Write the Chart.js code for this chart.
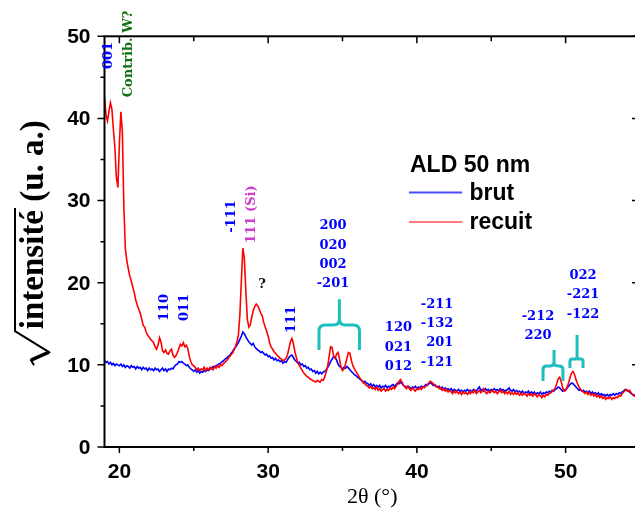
<!DOCTYPE html>
<html>
<head>
<meta charset="utf-8">
<script src="https://cdn.jsdelivr.net/npm/chart.js@4.4.1/dist/chart.umd.min.js"></script>
<style>
    html, body { margin: 0; padding: 0; background: #fff; overflow: hidden; }
    #wrap { position: relative; width: 650px; height: 508px; }
</style>
</head>
<body>
<div id="wrap"><canvas id="xrd" width="650" height="508"></canvas></div>
<script>
// 2θ sampling of the scans (degrees)
const angleStart = 19
const angleStep = 0.1

// √intensity, annealed sample (one row per degree, 19.0 -> 55.0)
const recuit = [
    42.6, 40.4, 39.7, 40.9, 41.9, 41.1, 38.6, 36.4, 32.8, 31.6,
    36.9, 40.8, 38.4, 29.3, 24.2, 22.7, 21.7, 20.8, 20.2, 19.5,
    18.8, 17.9, 17.3, 16.8, 16.3, 15.6, 14.8, 14.6, 14.0, 13.6,
    13.4, 13.1, 12.9, 12.7, 12.2, 11.9, 12.4, 13.3, 12.8, 11.7,
    11.5, 11.8, 11.4, 11.3, 11.7, 11.9, 11.2, 10.9, 11.1, 11.5,
    12.0, 12.5, 12.3, 12.7, 12.2, 12.4, 12.0, 11.0, 10.4, 10.0,
    9.9, 9.7, 9.4, 9.6, 9.3, 9.5, 9.4, 9.7, 9.3, 9.6,
    9.4, 9.7, 9.5, 9.4, 9.8, 9.6, 9.9, 9.7, 10.0, 9.9,
    10.2, 10.3, 10.5, 10.7, 11.0, 11.2, 11.4, 11.8, 12.2, 12.8,
    13.6, 16.1, 20.2, 24.2, 23.0, 19.1, 15.6, 14.6, 14.9, 15.8,
    16.6, 17.1, 17.4, 17.2, 16.8, 16.3, 16.0, 15.2, 14.6, 14.1,
    13.5, 12.7, 12.2, 11.9, 11.6, 11.4, 11.2, 11.0, 10.8, 10.7,
    10.5, 10.6, 10.8, 11.2, 12.0, 12.8, 13.2, 12.6, 11.6, 10.9,
    10.3, 9.9, 9.6, 9.3, 9.0, 8.8, 8.6, 8.5, 8.3, 8.2,
    8.1, 8.0, 7.9, 8.1, 8.0, 7.9, 8.2, 8.1, 8.5, 9.1,
    9.8, 11.0, 12.2, 12.1, 11.1, 10.8, 11.3, 11.5, 10.7, 9.7,
    9.3, 9.5, 10.1, 10.8, 11.5, 11.4, 10.5, 9.9, 9.5, 9.2,
    8.9, 8.6, 8.3, 8.1, 7.8, 7.7, 7.5, 7.4, 7.2, 7.4,
    7.1, 7.2, 7.0, 7.3, 6.9, 7.1, 6.8, 7.0, 7.1, 6.8,
    7.0, 6.9, 7.2, 7.0, 7.3, 7.1, 7.4, 7.7, 8.0, 8.2,
    7.9, 7.5, 7.3, 7.1, 7.4, 7.1, 6.9, 7.2, 7.0, 6.8,
    7.1, 7.0, 7.2, 7.0, 7.3, 7.2, 7.4, 7.6, 7.8, 8.0,
    7.9, 7.7, 7.5, 7.3, 7.4, 7.1, 7.2, 6.9, 7.1, 6.8,
    7.0, 6.7, 6.9, 6.7, 6.5, 6.8, 6.6, 6.8, 6.5, 6.7,
    6.4, 6.7, 6.5, 6.6, 6.4, 6.7, 6.5, 6.8, 6.6, 6.9,
    6.5, 6.7, 6.9, 6.6, 6.8, 7.1, 6.7, 6.5, 6.8, 6.6,
    6.7, 6.9, 6.6, 6.8, 6.5, 6.7, 6.9, 6.6, 6.8, 6.5,
    6.7, 6.5, 6.8, 6.4, 6.6, 6.4, 6.7, 6.4, 6.6, 6.3,
    6.5, 6.3, 6.6, 6.4, 6.2, 6.5, 6.3, 6.4, 6.2, 6.5,
    6.3, 6.1, 6.4, 6.2, 6.0, 6.3, 6.1, 6.4, 6.3, 6.5,
    6.6, 6.8, 6.9, 7.2, 7.7, 8.3, 8.5, 8.0, 7.2, 6.8,
    6.9, 7.3, 7.8, 8.5, 9.0, 9.2, 8.8, 8.2, 7.7, 7.3,
    7.0, 6.8, 6.7, 6.5, 6.7, 6.4, 6.6, 6.3, 6.5, 6.2,
    6.4, 6.1, 6.3, 6.0, 6.2, 5.9, 6.1, 5.8, 6.0, 5.9,
    6.1, 5.8, 6.0, 5.9, 6.1, 6.0, 6.3, 6.2, 6.5, 6.7,
    6.9, 7.0, 6.8, 6.9, 6.6, 6.4, 6.2, 6.3, 6.0, 6.1,
    6.0
]

// √intensity, as-deposited sample
const brut = [
    10.5, 10.3, 10.4, 10.1, 10.3, 10.0, 10.2, 9.9, 10.1, 10.0,
    9.9, 10.1, 9.8, 10.0, 9.7, 9.9, 9.8, 9.6, 9.9, 9.7,
    9.8, 9.5, 9.8, 9.6, 9.7, 9.4, 9.7, 9.5, 9.6, 9.3,
    9.6, 9.4, 9.5, 9.3, 9.6, 9.4, 9.5, 9.2, 9.4, 9.6,
    9.3, 9.5, 9.2, 9.5, 9.4, 9.6, 9.5, 9.8, 10.0, 10.1,
    10.4, 10.3, 10.4, 10.2, 10.1, 9.9, 10.0, 9.7, 9.5, 9.4,
    9.2, 9.4, 9.1, 9.3, 9.0, 9.2, 9.1, 9.3, 9.2, 9.4,
    9.3, 9.5, 9.6, 9.8, 9.7, 9.9, 10.0, 10.1, 10.2, 10.4,
    10.5, 10.7, 10.8, 11.0, 11.1, 11.4, 11.6, 11.9, 12.1, 12.4,
    12.7, 13.1, 13.5, 14.0, 13.8, 13.4, 13.1, 12.8, 12.6, 12.4,
    12.6, 12.2, 12.0, 11.8, 11.7, 11.5, 11.6, 11.4, 11.2, 11.3,
    11.0, 11.1, 10.8, 10.9, 10.6, 10.8, 10.5, 10.6, 10.4, 10.5,
    10.2, 10.4, 10.3, 10.6, 10.9, 11.1, 11.2, 10.9, 10.6, 10.4,
    10.2, 10.3, 10.0, 10.1, 9.8, 9.9, 9.6, 9.7, 9.4, 9.5,
    9.2, 9.3, 9.0, 9.2, 8.9, 9.1, 8.9, 9.1, 9.2, 9.4,
    9.7, 10.0, 10.4, 10.7, 11.0, 10.9, 10.6, 10.1, 9.8, 9.7,
    9.5, 9.7, 9.6, 9.8, 9.6, 9.4, 9.2, 9.0, 8.8, 8.7,
    8.5, 8.4, 8.2, 8.1, 7.9, 8.0, 7.8, 7.7, 7.5, 7.7,
    7.4, 7.6, 7.3, 7.5, 7.3, 7.5, 7.2, 7.4, 7.3, 7.5,
    7.2, 7.4, 7.3, 7.5, 7.6, 7.4, 7.6, 7.8, 7.7, 7.9,
    7.7, 7.5, 7.4, 7.2, 7.4, 7.3, 7.1, 7.3, 7.2, 7.4,
    7.1, 7.3, 7.2, 7.4, 7.3, 7.4, 7.6, 7.5, 7.7, 7.8,
    7.7, 7.5, 7.6, 7.4, 7.3, 7.4, 7.1, 7.3, 7.0, 7.2,
    7.0, 7.1, 6.9, 7.1, 6.8, 7.0, 6.9, 6.8, 7.0, 6.8,
    6.9, 6.7, 6.9, 6.8, 7.0, 6.8, 6.9, 6.7, 7.0, 6.9,
    6.8, 7.1, 7.3, 6.9, 7.0, 6.8, 7.1, 6.9, 7.0, 6.8,
    7.0, 6.9, 7.1, 6.9, 7.0, 6.8, 7.1, 6.9, 7.0, 6.8,
    6.9, 7.0, 7.2, 6.9, 6.8, 7.0, 6.7, 6.9, 6.7, 6.8,
    6.6, 6.8, 6.5, 6.7, 6.6, 6.8, 6.5, 6.7, 6.5, 6.7,
    6.4, 6.6, 6.5, 6.7, 6.4, 6.6, 6.5, 6.7, 6.6, 6.8,
    6.7, 6.9, 6.8, 7.0, 7.1, 7.3, 7.2, 7.0, 6.8, 6.9,
    7.0, 7.2, 7.4, 7.6, 7.8, 7.7, 7.5, 7.3, 7.1, 6.9,
    7.0, 6.8, 6.9, 6.7, 6.8, 6.6, 6.8, 6.5, 6.7, 6.5,
    6.6, 6.4, 6.6, 6.3, 6.5, 6.3, 6.4, 6.2, 6.4, 6.2,
    6.4, 6.3, 6.5, 6.3, 6.5, 6.4, 6.6, 6.5, 6.7, 6.8,
    7.0, 6.9, 6.8, 6.7, 6.5, 6.4, 6.3, 6.4, 6.2, 6.3,
    6.1
]

const xMajorTicks = [20, 30, 40, 50]
const xMinorTicks = [25, 35, 45, 55]
const yMajorTicks = [0, 10, 20, 30, 40, 50]
const yMinorTicks = [5, 15, 25, 35, 45]

// peak labels, anchored at [2θ, √I]
const peakLabels = [
    { lines: ['001'], at: [19.27, 47.66], color: '#0000ff', rotate: true },
    { lines: ['Contrib. W?'], at: [20.61, 47.85], color: '#117011', rotate: true },
    { lines: ['110'], at: [23.07, 16.98], color: '#0000ff', rotate: true },
    { lines: ['011'], at: [24.39, 16.98], color: '#0000ff', rotate: true },
    { lines: ['-111'], at: [27.57, 28.06], color: '#0000ff', rotate: true },
    { lines: ['111 (Si)'], at: [28.88, 28.31], color: '#cc3fcc', rotate: true },
    { lines: ['?'], at: [29.59, 19.72], color: '#111111' },
    { lines: ['111'], at: [31.57, 15.52], color: '#0000ff', rotate: true },
    { lines: ['200', '020', '002', '-201'], at: [34.36, 26.9], color: '#0000ff' },
    { lines: ['120', '021', '012'], at: [38.76, 14.49], color: '#0000ff' },
    { lines: ['-211', '-132', '201', '-121'], at: [42.45, 17.37], color: '#0000ff', align: 'right' },
    { lines: ['-212', '220'], at: [48.14, 15.86], color: '#0000ff' },
    { lines: ['022', '-221', '-122'], at: [51.17, 20.85], color: '#0000ff' },
]

// cyan braces: 2θ left / stem / right, √I top / bar / ends
const braces = [
    { x: [33.42, 34.79, 36.14], y: [17.98, 14.85, 11.81] },
    { x: [48.48, 49.22, 49.82], y: [11.81, 9.86, 8.04] },
    { x: [50.29, 50.77, 51.17], y: [13.64, 10.71, 9.62] },
]

const legendTitle = 'ALD 50 nm'
const seriesNames = ['brut', 'recuit']

const angles = brut.map((_, i) => +(angleStart + i * angleStep).toFixed(1))
const toPoints = values => values.map((v, i) => ({ x: angles[i], y: v }))

function drawBrace(ctx, x, y, b) {
    const l = x.getPixelForValue(b.x[0])
    const m = x.getPixelForValue(b.x[1])
    const r = x.getPixelForValue(b.x[2])
    const top = y.getPixelForValue(b.y[0])
    const bar = y.getPixelForValue(b.y[1])
    const end = y.getPixelForValue(b.y[2])
    const rad = Math.min(6, (m - l) / 3, end - bar)
    ctx.beginPath()
    ctx.moveTo(l, end)
    ctx.lineTo(l, bar + rad)
    ctx.quadraticCurveTo(l, bar, l + rad, bar)
    ctx.lineTo(m - rad, bar)
    ctx.quadraticCurveTo(m, bar, m, bar - rad)
    ctx.lineTo(m, top)
    ctx.moveTo(r, end)
    ctx.lineTo(r, bar + rad)
    ctx.quadraticCurveTo(r, bar, r - rad, bar)
    ctx.lineTo(m + rad, bar)
    ctx.quadraticCurveTo(m, bar, m, bar - rad)
    ctx.stroke()
}

const decorations = {
    id: 'decorations',
    afterDatasetsDraw(chart) {
        const { ctx, chartArea: a, scales: { x, y } } = chart
        ctx.save()

        // frame
        ctx.strokeStyle = '#000'
        ctx.lineWidth = 2
        ctx.strokeRect(a.left, a.top, a.right - a.left, a.bottom - a.top)

        // ticks: out on bottom/left, in on top/right
        ctx.lineWidth = 1.5
        ctx.beginPath()
        xMajorTicks.concat(xMinorTicks).forEach(v => {
            const px = x.getPixelForValue(v)
            const len = xMajorTicks.includes(v) ? 6 : 4
            ctx.moveTo(px, a.bottom); ctx.lineTo(px, a.bottom + len)
            ctx.moveTo(px, a.top); ctx.lineTo(px, a.top + len + 1)
        })
        yMajorTicks.concat(yMinorTicks).forEach(v => {
            const py = y.getPixelForValue(v)
            const len = yMajorTicks.includes(v) ? 7 : 4
            ctx.moveTo(a.left, py); ctx.lineTo(a.left - len, py)
            ctx.moveTo(a.right, py); ctx.lineTo(a.right - len - 1, py)
        })
        ctx.stroke()

        // tick labels
        ctx.fillStyle = '#000'
        ctx.font = 'bold 21px "Liberation Sans", Arial, sans-serif'
        ctx.textAlign = 'center'
        ctx.textBaseline = 'middle'
        xMajorTicks.forEach(v => ctx.fillText(String(v), x.getPixelForValue(v), a.bottom + 25))
        ctx.textAlign = 'right'
        yMajorTicks.forEach(v => ctx.fillText(String(v), a.left - 14, y.getPixelForValue(v) + 1))

        // x title
        ctx.font = '22px "Liberation Serif", "Times New Roman", serif'
        ctx.textAlign = 'center'
        ctx.fillText('2θ (°)', (a.left + a.right) / 2, 497)

        // y title with radical over "intensité"
        ctx.save()
        ctx.translate(43, (a.top + a.bottom) / 2 + 1)
        ctx.rotate(-Math.PI / 2)
        ctx.font = 'bold 33px "Liberation Serif", "Times New Roman", serif'
        ctx.textAlign = 'left'
        ctx.textBaseline = 'alphabetic'
        const word = 'intensité'
        const rest = ' (u. a.)'
        const radW = 34
        const wWord = ctx.measureText(word).width
        const total = radW + 2 + wWord + ctx.measureText(rest).width
        const u0 = -total / 2
        ctx.fillText(word, u0 + radW + 2, 0)
        ctx.fillText(rest, u0 + radW + 2 + wWord, 0)
        ctx.lineWidth = 2
        ctx.lineJoin = 'miter'
        ctx.beginPath()
        ctx.moveTo(u0, -9)
        ctx.lineTo(u0 + 5, -12)
        ctx.lineTo(u0 + 13, 6)
        ctx.lineTo(u0 + radW, -28)
        ctx.lineTo(u0 + radW + 2 + wWord + 2, -28)
        ctx.stroke()
        ctx.beginPath()
        ctx.lineWidth = 3.5
        ctx.moveTo(u0 + 5, -12)
        ctx.lineTo(u0 + 13, 6)
        ctx.stroke()
        ctx.restore()

        // legend
        ctx.font = 'bold 23px "Liberation Sans", Arial, sans-serif'
        ctx.textAlign = 'left'
        ctx.textBaseline = 'alphabetic'
        ctx.fillText(legendTitle, 410, 172)
        ctx.fillText(seriesNames[0], 469.5, 200)
        ctx.fillText(seriesNames[1], 469.5, 229)
        ctx.lineWidth = 2
        ctx.strokeStyle = '#4a4aff'
        ctx.beginPath(); ctx.moveTo(409, 192.5); ctx.lineTo(462, 192.5); ctx.stroke()
        ctx.strokeStyle = '#ff7a7a'
        ctx.beginPath(); ctx.moveTo(409, 222); ctx.lineTo(462.5, 222); ctx.stroke()

        // peak labels
        ctx.font = 'bold 13px "DejaVu Serif", serif'
        ctx.textBaseline = 'middle'
        peakLabels.forEach(p => {
            const px = x.getPixelForValue(p.at[0])
            const py = y.getPixelForValue(p.at[1])
            ctx.fillStyle = p.color
            if (p.rotate) {
                ctx.save()
                ctx.translate(px, py)
                ctx.rotate(-Math.PI / 2)
                ctx.textAlign = 'center'
                ctx.fillText(p.lines[0], 0, 0)
                ctx.restore()
            } else {
                ctx.textAlign = p.align || 'center'
                p.lines.forEach((t, i) => ctx.fillText(t, px, py + i * 19.3))
            }
        })

        // braces
        ctx.strokeStyle = '#1fbebe'
        ctx.lineWidth = 3
        ctx.lineCap = 'butt'
        braces.forEach(b => drawBrace(ctx, x, y, b))

        ctx.restore()
    }
}

const ctx = document.getElementById('xrd').getContext('2d')

new Chart(ctx, {
    type: 'line',
    data: {
        datasets: [{
            label: seriesNames[1],
            data: toPoints(recuit),
            borderColor: '#ff0000',
            borderWidth: 1.6,
            pointRadius: 0,
            tension: 0,
        }, {
            label: seriesNames[0],
            data: toPoints(brut),
            borderColor: '#0000ff',
            borderWidth: 1.6,
            pointRadius: 0,
            tension: 0,
        }]
    },
    options: {
        responsive: false,
        devicePixelRatio: 1,
        animation: false,
        layout: { padding: { left: 0, top: 36.3, right: 10, bottom: 0 } },
        plugins: {
            legend: { display: false },
            tooltip: { enabled: false },
        },
        scales: {
            x: {
                type: 'linear',
                min: 19,
                max: 55,
                ticks: { display: false },
                grid: { display: false, drawTicks: false },
                border: { display: false },
                afterFit: s => { s.height = 61 },
            },
            y: {
                min: 0,
                max: 50,
                ticks: { display: false },
                grid: { display: false, drawTicks: false },
                border: { display: false },
                afterFit: s => { s.width = 104.5 },
            }
        }
    },
    plugins: [decorations]
})
</script>
</body>
</html>
